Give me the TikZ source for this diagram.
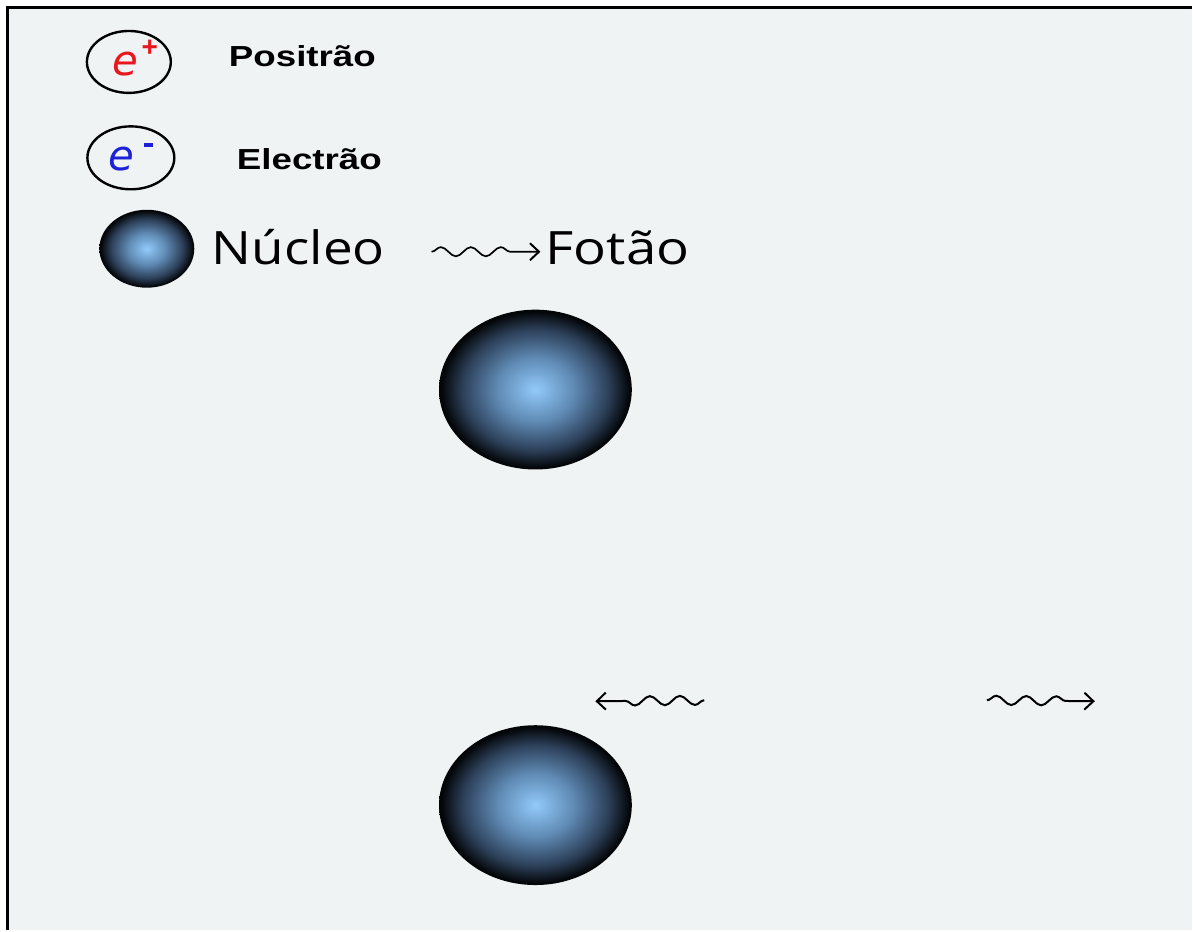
\documentclass[tikz,border=0pt]{standalone}
\usepackage{fontspec}
\usepackage{graphicx}
\usetikzlibrary{shapes.geometric, decorations.pathmorphing, arrows.meta}
\setmainfont{Liberation Sans}
\newfontfamily\handfont{Open Sans}
\newfontfamily\efont{DejaVu Sans}

\definecolor{paper}{HTML}{EFF3F4}
\definecolor{posred}{HTML}{E8161E}
\definecolor{elblue}{HTML}{1C22D8}
\definecolor{nucA}{HTML}{92CAFA}
\definecolor{nucB}{HTML}{5F8AB4}
\definecolor{nucC}{HTML}{2C3F58}
\definecolor{nucD}{HTML}{030507}

\pgfdeclareradialshading{nucleus}{\pgfpoint{0bp}{0bp}}{%
  color(0bp)=(nucA); color(10bp)=(nucB); color(19bp)=(nucC);
  color(24.5bp)=(nucD); color(50bp)=(nucD)}

\tikzset{
  nucleus/.style={ellipse, inner sep=0pt, shading=nucleus},
  particle/.style={draw=black, ellipse, line width=2.4pt, inner sep=0pt,
    minimum width=84pt, minimum height=62pt},
  boldlabel/.style={anchor=base west, inner sep=0pt,
    font=\fontsize{29}{32}\selectfont\bfseries},
  handlabel/.style={anchor=base west, inner sep=0pt,
    font=\handfont\fontsize{46}{50}\selectfont},
  charge/.style={inner sep=0pt, font=\efont\itshape\fontsize{42}{46}\selectfont},
  photon/.style={line width=2pt, decorate,
    decoration={snake, amplitude=4.6pt, segment length=30pt, post length=25pt},
    -{Straight Barb[length=9pt, width=17pt, line width=2pt]}}
}

\begin{document}
\begin{tikzpicture}[x=1pt, y=-1pt]
  % page and frame
  \fill[white] (0,0) rectangle (1193,931);
  \fill[paper] (7,7) rectangle (1193,931);
  \draw[line width=2.6pt] (7.3,931) -- (7.3,7.3) -- (1193,7.3);
  \useasboundingbox (0,0) rectangle (1193,931);

  % legend: positron
  \node[particle] (pos) at (129,62) {};
  \node[charge, text=posred] (posE) at (126,64) {e};
  \node[inner sep=0pt, text=posred, font=\bfseries\fontsize{28}{28}\selectfont] (posSign) at (150,48) {+};
  \node[boldlabel] (posLab) at (229,67) {\resizebox{147pt}{\height}{Positrão}};

  % legend: electron
  \node[particle, minimum width=87pt, minimum height=63pt] (ele) at (131,158) {};
  \node[charge, text=elblue] (eleE) at (122,159) {e};
  \node[inner sep=0pt, fill=elblue, minimum width=9pt, minimum height=4pt] (eleSign) at (149,145) {};
  \node[boldlabel] (eleLab) at (237,170) {\resizebox{145pt}{\height}{Electrão}};

  % legend: nucleus and photon
  \node[nucleus, minimum width=95pt, minimum height=78pt] (nucKey) at (147,249) {};
  \node[handlabel] (nucLab) at (212,265) {\resizebox{173pt}{\height}{Núcleo}};
  \coordinate (phKeyA) at (432,252);
  \coordinate (phKeyB) at (541,252);
  \draw[photon, line width=1.7pt] (phKeyA) -- (phKeyB);
  \node[handlabel] (phLab) at (546,265) {\resizebox{144pt}{\height}{Fotão}};

  % two nuclei
  \node[nucleus, minimum width=193pt, minimum height=160pt] (nucTop) at (536,390) {};
  \node[nucleus, minimum width=193pt, minimum height=160pt] (nucBot) at (536,806) {};

  % outgoing photons
  \coordinate (phLA) at (705,701);
  \coordinate (phLB) at (596,702);
  \draw[photon] (phLA) -- (phLB);
  \coordinate (phRA) at (988,701);
  \coordinate (phRB) at (1096,702);
  \draw[photon] (phRA) -- (phRB);
\end{tikzpicture}
\end{document}
